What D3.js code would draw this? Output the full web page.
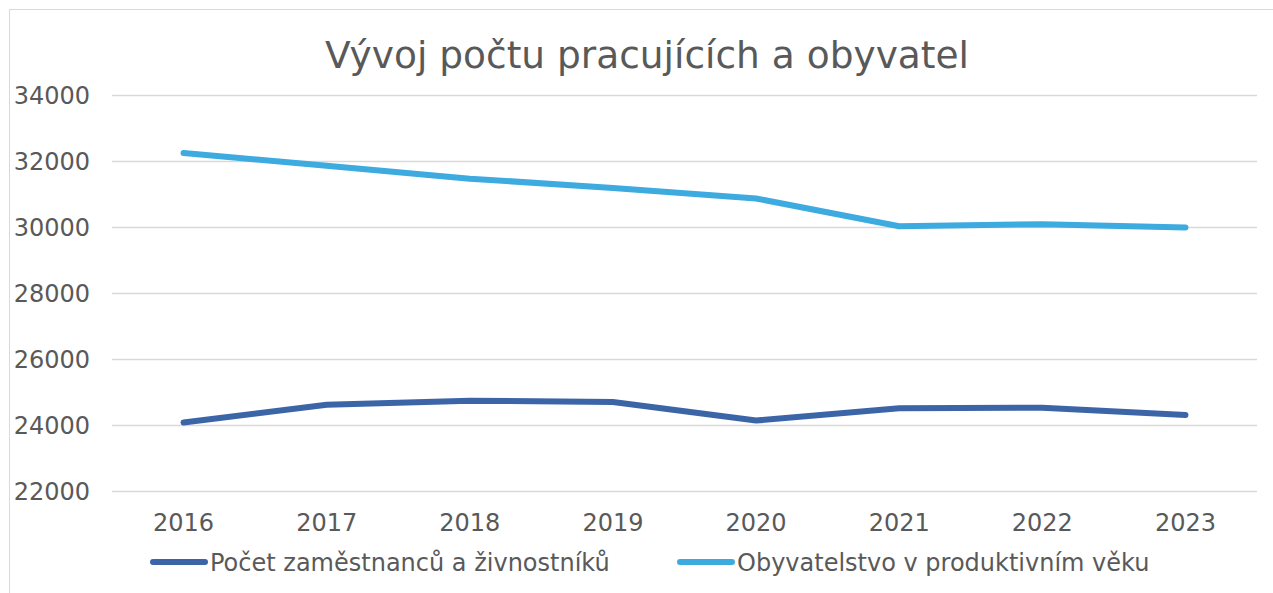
<!DOCTYPE html>
<html>
<head>
<meta charset="utf-8">
<script src="https://cdn.jsdelivr.net/npm/d3@7"></script>
<style>
  body { margin: 0; background: #fff; }
  svg { display: block; font-family: "DejaVu Sans", Verdana, sans-serif; }
</style>
</head>
<body>
<script>
const years = ["2016", "2017", "2018", "2019", "2020", "2021", "2022", "2023"];
const pracujici = [24090, 24630, 24750, 24710, 24150, 24520, 24540, 24320];
const obyvatele = [32260, 31870, 31480, 31200, 30880, 30040, 30100, 30000];
const yTicks = [22000, 24000, 26000, 28000, 30000, 32000, 34000];
const seriesNames = ["Počet zaměstnanců a živnostníků", "Obyvatelstvo v produktivním věku"];
const colors = ["#3C65A8", "#3DAAE0"];

const WIDTH = 1273, HEIGHT = 593;
const m = { left: 112, right: 1257, top: 95.5, bottom: 491.5 };

const svg = d3.select("body").append("svg").attr("width", WIDTH).attr("height", HEIGHT);

// chart border
svg.append("rect").attr("x", 9.5).attr("y", 9.5).attr("width", 1300).attr("height", 700)
  .attr("fill", "none").attr("stroke", "#d9d9d9").attr("stroke-width", 1);

const x = d3.scaleBand().domain(years).range([m.left, m.right]);
const y = d3.scaleLinear().domain([22000, 34000]).range([m.bottom, m.top]);

// title
svg.append("text").attr("x", 647).attr("y", 68).attr("text-anchor", "middle")
  .attr("font-size", 37.5).attr("fill", "#595959").text("Vývoj počtu pracujících a obyvatel");

// gridlines
svg.append("g").selectAll("line").data(yTicks).enter().append("line")
  .attr("x1", m.left).attr("x2", m.right)
  .attr("y1", d => y(d)).attr("y2", d => y(d))
  .attr("stroke", "#d9d9d9").attr("stroke-width", 1.5);

// y axis labels
const yAxis = svg.append("g").attr("transform", `translate(${m.left - 22},0)`)
  .call(d3.axisLeft(y).tickValues(yTicks).tickSize(0).tickPadding(0).tickFormat(d3.format("d")));
yAxis.select(".domain").remove();
yAxis.selectAll("text").attr("font-size", 24).attr("fill", "#595959")
  .attr("font-family", "DejaVu Sans, Verdana, sans-serif");

// x axis labels
const xAxis = svg.append("g").attr("transform", `translate(0,${m.bottom + 22})`)
  .call(d3.axisBottom(x).tickSize(0).tickPadding(0));
xAxis.select(".domain").remove();
xAxis.selectAll("text").attr("font-size", 24).attr("fill", "#595959")
  .attr("font-family", "DejaVu Sans, Verdana, sans-serif");

// lines
const line = d3.line().x((d, i) => x(years[i]) + x.bandwidth() / 2).y(d => y(d));
[pracujici, obyvatele].forEach((s, k) => {
  svg.append("path").datum(s).attr("d", line)
    .attr("fill", "none").attr("stroke", colors[k]).attr("stroke-width", 6)
    .attr("stroke-linecap", "round").attr("stroke-linejoin", "round");
});

// legend
const legendX = [153, 680];
seriesNames.forEach((name, k) => {
  const g = svg.append("g").attr("transform", `translate(${legendX[k]},562)`);
  g.append("line").attr("x1", 0).attr("x2", 52).attr("y1", 0).attr("y2", 0)
    .attr("stroke", colors[k]).attr("stroke-width", 6).attr("stroke-linecap", "round");
  g.append("text").attr("x", 57).attr("y", 9).attr("font-size", 24)
    .attr("fill", "#595959").text(name);
});
</script>
</body>
</html>
